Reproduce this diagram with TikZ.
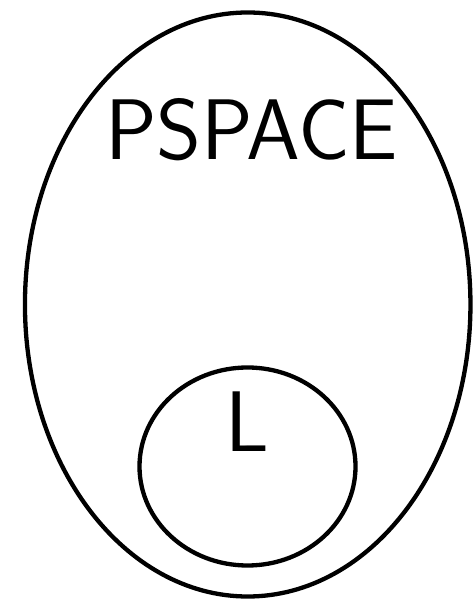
\documentclass[tikz,border=0pt]{standalone}
\usetikzlibrary{shapes.geometric}

\begin{document}
\begin{tikzpicture}[
  x=1pt, y=1pt,
  klasse/.style={draw, ellipse, line width=4.3pt, inner sep=0pt},
  etikett/.style={font=\sffamily\fontsize{86}{90}\selectfont, inner sep=0pt}
]
\useasboundingbox (0,0) rectangle (474,601);

% ---- PSPACE contains L ----
\node[klasse, minimum width=445.5pt, minimum height=584pt] (pspace) at (247.7,296.5) {};
\node[klasse, minimum width=216pt, minimum height=198pt] (logspace) at (247.5,134.5) {};

\node[etikett] (pspacetxt) at (251.5,471) {PSPACE};
\node[etikett] (ltxt) at (247,179.5) {L};

\end{tikzpicture}
\end{document}
